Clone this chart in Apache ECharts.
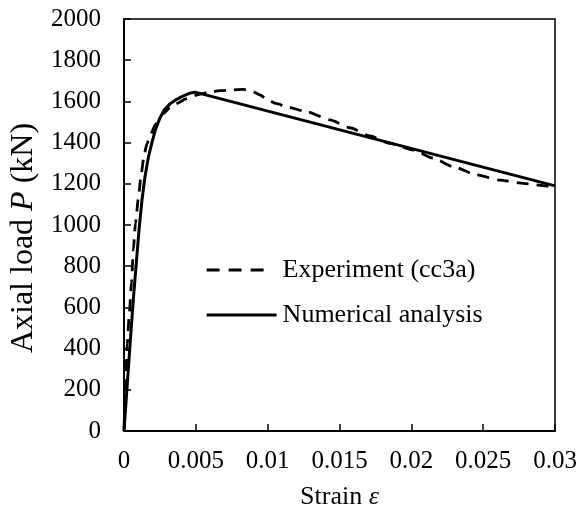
<!DOCTYPE html>
<html>
<head>
<meta charset="utf-8">
<script src="https://cdn.jsdelivr.net/npm/echarts@6/dist/echarts.min.js"></script>
<style>
  html, body { margin: 0; padding: 0; background: #fff; }
  #chart { width: 587px; height: 520px; }
</style>
</head>
<body>
<div id="chart"></div>
<script>
// Load–strain response of specimen cc3a: test record and numerical prediction
const seriesNames = ['Experiment (cc3a)', 'Numerical analysis'];

const strainExp = [0, 0.0001, 0.00022, 0.00037, 0.00052, 0.00065, 0.0008, 0.001, 0.0012, 0.0014,
  0.0016, 0.0018, 0.0022, 0.00274, 0.0032, 0.00367, 0.0043, 0.00506, 0.0058, 0.00668, 0.0075, 0.0083,
  0.0089, 0.00947, 0.00993, 0.0106, 0.01132, 0.01272, 0.01434, 0.01573, 0.01712, 0.01851,
  0.02014, 0.02153, 0.02292, 0.02454, 0.02617, 0.02779, 0.02942, 0.03];
const loadExp = [0, 200, 420, 570, 720, 880, 1010, 1130, 1250, 1340,
  1395, 1430, 1490, 1542, 1570, 1590, 1612, 1631, 1643, 1652, 1656, 1658,
  1650, 1631, 1610, 1590, 1574, 1550, 1510, 1472, 1432, 1396,
  1364, 1324, 1283, 1243, 1218, 1202, 1189, 1190];

const strainNum = [0, 0.0004, 0.00065, 0.00105, 0.00125, 0.00146, 0.0017, 0.00193, 0.0022, 0.0025,
  0.0028, 0.0032, 0.00367, 0.0041, 0.0045, 0.00494, 0.03];
const loadNum = [0, 400, 640, 980, 1120, 1234, 1330, 1396, 1465, 1520,
  1558, 1588, 1610, 1626, 1638, 1645, 1190];

const xTickLabels = ['0', '0.005', '0.01', '0.015', '0.02', '0.025', '0.03'];
const yTickLabels = ['0', '200', '400', '600', '800', '1000', '1200', '1400', '1600', '1800', '2000'];

const FONT = '"Liberation Serif", "Times New Roman", serif';
const pairs = (xs, ys) => xs.map((x, i) => [x, ys[i]]);

const chart = echarts.init(document.getElementById('chart'));

const legendBase = {
  orient: 'vertical', left: 205, padding: 0,
  itemWidth: 70, itemHeight: 26,
  itemStyle: { color: 'rgba(0,0,0,0)', borderWidth: 0, opacity: 0 },
  textStyle: { fontFamily: FONT, fontSize: 26, color: '#000', padding: [0, 0, 0, 1] }
};

chart.setOption({
  backgroundColor: '#fff',
  animation: false,
  grid: {
    left: 124, right: 32, top: 19, bottom: 89,
    show: true, borderColor: '#000', borderWidth: 1.5
  },
  xAxis: {
    type: 'value', min: 0, max: 0.03, interval: 0.005,
    name: '{t|Strain }{i|ε}',
    nameLocation: 'middle', nameGap: 53,
    nameTextStyle: {
      rich: {
        t: { fontFamily: FONT, fontSize: 26, color: '#000' },
        i: { fontFamily: FONT, fontSize: 26, fontStyle: 'italic', color: '#000' }
      }
    },
    axisLine: { lineStyle: { color: '#000', width: 2 } },
    axisTick: { inside: true, length: 7, lineStyle: { color: '#000', width: 1.5 } },
    splitLine: { show: false },
    axisLabel: {
      margin: 18, color: '#000', fontFamily: FONT, fontSize: 25,
      formatter: v => xTickLabels[Math.round(v / 0.005)]
    }
  },
  yAxis: {
    type: 'value', min: 0, max: 2000, interval: 200,
    name: '{t|Axial load }{i|P}{t| (kN)}',
    nameLocation: 'middle', nameGap: 84, nameRotate: 90,
    nameTextStyle: {
      padding: [0, 26, 0, 0],
      rich: {
        t: { fontFamily: FONT, fontSize: 32, color: '#000' },
        i: { fontFamily: FONT, fontSize: 32, fontStyle: 'italic', color: '#000' }
      }
    },
    axisLine: { show: true, lineStyle: { color: '#000', width: 2 } },
    axisTick: { show: true, inside: true, length: 7, lineStyle: { color: '#000', width: 1.5 } },
    splitLine: { show: false },
    axisLabel: {
      margin: 23, color: '#000', fontFamily: FONT, fontSize: 25,
      formatter: v => yTickLabels[Math.round(v / 200)]
    }
  },
  legend: [
    Object.assign({}, legendBase, {
      data: [seriesNames[0]], top: 257,
      lineStyle: { type: [13, 9, 13, 9, 13, 40], width: 3.2 }
    }),
    Object.assign({}, legendBase, {
      data: [seriesNames[1]], top: 302,
      lineStyle: { type: 'solid', width: 3.2 }
    })
  ],
  series: [
    {
      name: seriesNames[0], type: 'line', symbol: 'none', showSymbol: false,
      smooth: 0.2, smoothMonotone: 'x',
      data: pairs(strainExp, loadExp),
      lineStyle: { color: '#000', width: 2.8, type: [12, 8] },
      itemStyle: { color: '#000' }
    },
    {
      name: seriesNames[1], type: 'line', symbol: 'none', showSymbol: false,
      smooth: false,
      data: pairs(strainNum, loadNum),
      lineStyle: { color: '#000', width: 3, type: 'solid' },
      itemStyle: { color: '#000' }
    }
  ]
});
</script>
</body>
</html>
